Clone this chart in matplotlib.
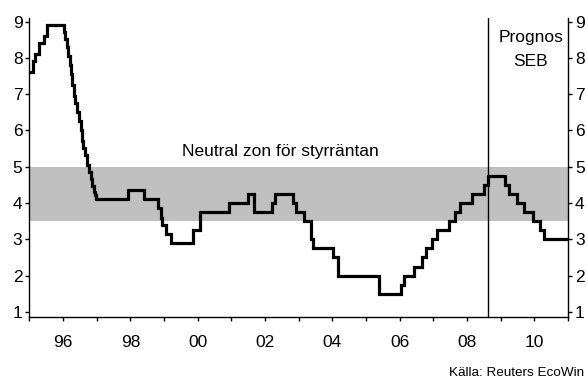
import matplotlib
matplotlib.use("Agg")
import matplotlib.pyplot as plt

plt.rcParams['font.family'] = ['Liberation Sans', 'DejaVu Sans']

# Repo rate: dates of change (decimal years) and the rate from that date
change_dates = [
    1995.00, 1995.10, 1995.17, 1995.28, 1995.45, 1995.52,
    1996.03, 1996.07, 1996.11, 1996.16, 1996.21, 1996.25, 1996.28, 1996.32,
    1996.37, 1996.42, 1996.47, 1996.52, 1996.56, 1996.60, 1996.66, 1996.72,
    1996.77, 1996.82, 1996.87, 1996.92, 1996.96, 1996.98,
    1997.93, 1998.41, 1998.82, 1998.90, 1998.95, 1999.06, 1999.20, 1999.86,
    2000.08, 2000.94, 2001.50, 2001.66, 2002.20, 2002.29, 2002.84, 2002.91,
    2003.15, 2003.38, 2003.44, 2004.03, 2004.18, 2005.40,
    2006.03, 2006.13, 2006.43, 2006.66, 2006.78, 2006.96, 2007.11, 2007.47,
    2007.64, 2007.80, 2008.14, 2008.50, 2008.62,
    2009.13, 2009.25, 2009.48, 2009.70, 2009.95, 2010.17, 2010.30, 2011.00,
]
repo_rate = [
    7.61, 7.91, 8.11, 8.41, 8.61, 8.91,
    8.71, 8.51, 8.31, 8.06, 7.81, 7.56, 7.26, 6.96,
    6.76, 6.51, 6.26, 6.01, 5.71, 5.51, 5.31, 5.06,
    4.86, 4.66, 4.46, 4.31, 4.21, 4.10,
    4.35, 4.10, 3.85, 3.60, 3.40, 3.15, 2.90, 3.25,
    3.75, 4.00, 4.25, 3.75, 4.00, 4.25, 4.00, 3.75,
    3.50, 3.00, 2.75, 2.50, 2.00, 1.50,
    1.75, 2.00, 2.25, 2.50, 2.75, 3.00, 3.25, 3.50,
    3.75, 4.00, 4.25, 4.50, 4.75,
    4.50, 4.25, 4.00, 3.75, 3.50, 3.25, 3.00, 3.00,
]

neutral_low, neutral_high = 3.5, 5.0
forecast_start = 2008.62

year_ticks = list(range(1995, 2012))
year_labels = [f"{y % 100:02d}" if y % 2 == 0 else "" for y in year_ticks]
rate_ticks = list(range(1, 10))

fig = plt.figure(figsize=(5.87, 3.81), dpi=100)
ax = fig.add_axes([0.050, 0.168, 0.9176, 0.785])

ax.axhspan(neutral_low, neutral_high, color="#c0c0c0", lw=0, zorder=0)
ax.axvline(forecast_start, color="black", lw=1.0, zorder=2)
ax.step(change_dates, repo_rate, where="post", color="black", lw=2.3,
        solid_joinstyle="miter", zorder=3)

ax.set_xlim(1995, 2011)
ax.set_ylim(0.86, 9.1)
ax.set_xticks(year_ticks)
ax.set_xticklabels(year_labels)
ax.set_yticks(rate_ticks)

for side in ("left", "right", "bottom"):
    ax.spines[side].set_linewidth(1.0)
ax.spines["top"].set_visible(False)

ax.tick_params(axis="y", which="both", left=True, right=True,
               labelleft=True, labelright=True, length=3, width=1,
               labelsize=12.5, pad=2)
ax.tick_params(axis="x", length=3, width=1, labelsize=12.5, pad=10)

ax.text(2002.46, 5.41, "Neutral zon för styrräntan", ha="center", va="center",
        fontsize=12.5)
ax.text(2009.9, 8.55, "Prognos", ha="center", va="center", fontsize=12.5)
ax.text(2009.9, 7.9, "SEB", ha="center", va="center", fontsize=12.5)

fig.text(0.995, 0.004, "Källa: Reuters EcoWin", ha="right", va="bottom",
         fontsize=9.7)

fig.savefig("out.png", dpi=100)
